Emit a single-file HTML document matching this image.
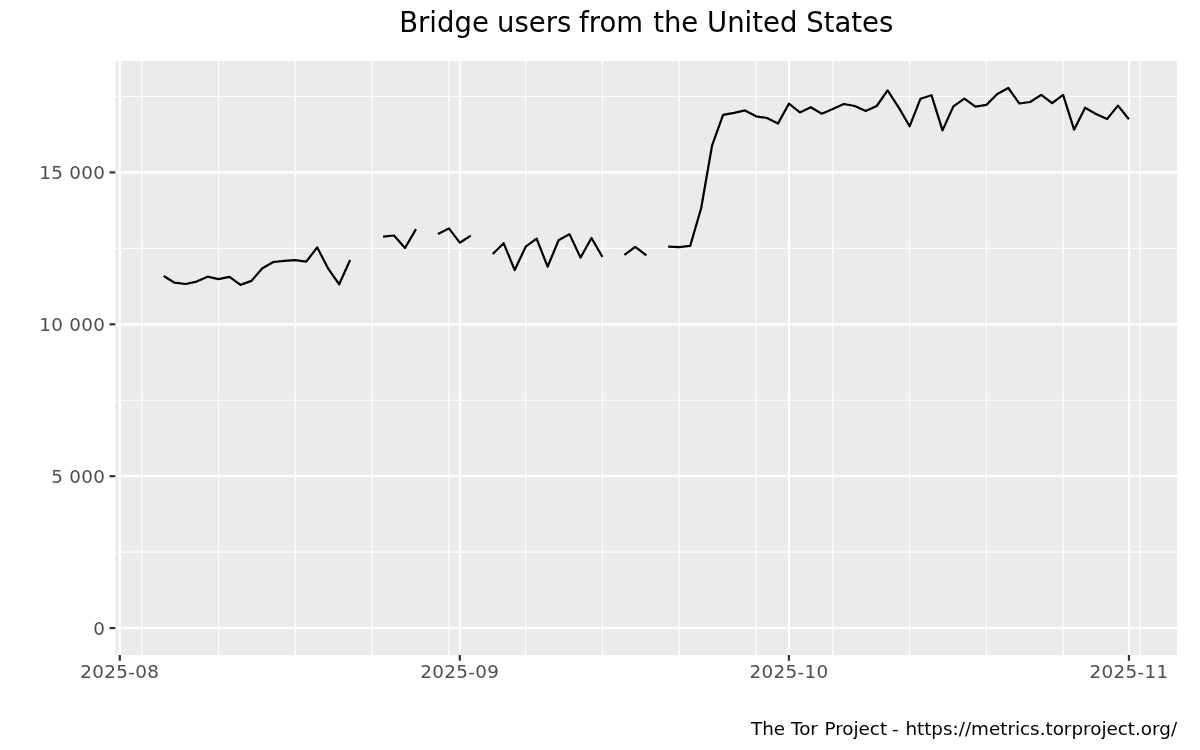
<!DOCTYPE html>
<html lang="en">
<head>
<meta charset="utf-8">
<title>Bridge users from the United States</title>
<style>
html,body{margin:0;padding:0;background:#ffffff;}
body{width:1200px;height:750px;overflow:hidden;}
svg{display:block;}
text{font-family:"DejaVu Sans","Liberation Sans",sans-serif;}
.ax{font-size:18.33px;fill:#4d4d4d;letter-spacing:0.34px;}
.title{font-size:27.5px;fill:#000000;}
.cap{font-size:18.33px;fill:#000000;}
</style>
</head>
<body>
<svg width="1200" height="750" viewBox="0 0 1200 750">
<rect x="0" y="0" width="1200" height="750" fill="#ffffff"/>
<rect x="115.3" y="61.0" width="1061.8" height="594.0" fill="#ebebeb"/>
<clipPath id="pc"><rect x="115.3" y="61.0" width="1061.8" height="594.0"/></clipPath>
<g clip-path="url(#pc)">
<g stroke="#ffffff" stroke-width="1.11" fill="none">
<line x1="115.3" x2="1177.1" y1="552.15" y2="552.15"/>
<line x1="115.3" x2="1177.1" y1="400.25" y2="400.25"/>
<line x1="115.3" x2="1177.1" y1="248.35" y2="248.35"/>
<line x1="115.3" x2="1177.1" y1="96.45" y2="96.45"/>
<line x1="141.74" x2="141.74" y1="61.0" y2="655.0"/>
<line x1="218.52" x2="218.52" y1="61.0" y2="655.0"/>
<line x1="295.30" x2="295.30" y1="61.0" y2="655.0"/>
<line x1="372.09" x2="372.09" y1="61.0" y2="655.0"/>
<line x1="448.87" x2="448.87" y1="61.0" y2="655.0"/>
<line x1="525.65" x2="525.65" y1="61.0" y2="655.0"/>
<line x1="602.44" x2="602.44" y1="61.0" y2="655.0"/>
<line x1="679.22" x2="679.22" y1="61.0" y2="655.0"/>
<line x1="756.00" x2="756.00" y1="61.0" y2="655.0"/>
<line x1="832.78" x2="832.78" y1="61.0" y2="655.0"/>
<line x1="909.57" x2="909.57" y1="61.0" y2="655.0"/>
<line x1="986.35" x2="986.35" y1="61.0" y2="655.0"/>
<line x1="1063.13" x2="1063.13" y1="61.0" y2="655.0"/>
<line x1="1139.92" x2="1139.92" y1="61.0" y2="655.0"/>
</g>
<g stroke="#ffffff" stroke-width="2.22" fill="none">
<line x1="115.3" x2="1177.1" y1="628.10" y2="628.10"/>
<line x1="115.3" x2="1177.1" y1="476.20" y2="476.20"/>
<line x1="115.3" x2="1177.1" y1="324.30" y2="324.30"/>
<line x1="115.3" x2="1177.1" y1="172.40" y2="172.40"/>
<line x1="119.80" x2="119.80" y1="61.0" y2="655.0"/>
<line x1="459.84" x2="459.84" y1="61.0" y2="655.0"/>
<line x1="788.91" x2="788.91" y1="61.0" y2="655.0"/>
<line x1="1128.95" x2="1128.95" y1="61.0" y2="655.0"/>
</g>
<g stroke="#000000" stroke-width="2.22" fill="none" stroke-linejoin="round" stroke-linecap="butt">
<polyline points="163.7,276.0 174.6,282.7 185.6,284.0 196.6,281.6 207.6,276.7 218.5,279.1 229.5,276.9 240.5,284.9 251.4,280.9 262.4,268.3 273.4,262.0 284.3,260.9 295.3,260.1 306.3,261.7 317.2,247.3 328.2,268.7 339.2,284.3 350.1,260.0"/>
<polyline points="383.1,236.7 394.0,235.5 405.0,248.0 416.0,229.1"/>
<polyline points="437.9,234.0 448.9,228.4 459.8,242.7 470.8,235.6"/>
<polyline points="492.7,254.0 503.7,243.3 514.7,270.0 525.7,246.7 536.6,238.7 547.6,266.7 558.6,240.3 569.5,234.1 580.5,257.6 591.5,238.0 602.4,256.9"/>
<polyline points="624.4,254.9 635.3,246.9 646.3,255.3"/>
<polyline points="668.2,246.7 679.2,247.1 690.2,245.9 701.2,208.0 712.1,145.3 723.1,114.9 734.1,112.8 745.0,110.4 756.0,116.3 767.0,118.0 777.9,123.6 788.9,103.7 799.9,112.4 810.8,107.3 821.8,113.7 832.8,109.1 843.8,104.0 854.7,106.0 865.7,110.9 876.7,106.0 887.6,90.4 898.6,107.3 909.6,126.3 920.5,98.7 931.5,95.2 942.5,130.4 953.4,106.4 964.4,98.7 975.4,106.7 986.4,104.9 997.3,94.0 1008.3,88.0 1019.3,103.5 1030.2,102.0 1041.2,94.9 1052.2,103.1 1063.1,94.9 1074.1,129.7 1085.1,107.7 1096.0,114.0 1107.0,119.1 1118.0,105.6 1128.9,119.3"/>
</g>
</g>
<g stroke="#333333" stroke-width="2.22" fill="none">
<line x1="109.57" x2="115.3" y1="628.10" y2="628.10"/>
<line x1="109.57" x2="115.3" y1="476.20" y2="476.20"/>
<line x1="109.57" x2="115.3" y1="324.30" y2="324.30"/>
<line x1="109.57" x2="115.3" y1="172.40" y2="172.40"/>
<line x1="119.80" x2="119.80" y1="655.0" y2="660.73"/>
<line x1="459.84" x2="459.84" y1="655.0" y2="660.73"/>
<line x1="788.91" x2="788.91" y1="655.0" y2="660.73"/>
<line x1="1128.95" x2="1128.95" y1="655.0" y2="660.73"/>
</g>
<text class="ax" x="105.35" y="634.55" text-anchor="end">0</text>
<text class="ax" x="105.35" y="482.65" text-anchor="end">5 000</text>
<text class="ax" x="105.35" y="330.75" text-anchor="end">10 000</text>
<text class="ax" x="105.35" y="178.85" text-anchor="end">15 000</text>
<text class="ax" x="119.80" y="678.35" text-anchor="middle">2025-08</text>
<text class="ax" x="459.84" y="678.35" text-anchor="middle">2025-09</text>
<text class="ax" x="788.91" y="678.35" text-anchor="middle">2025-10</text>
<text class="ax" x="1128.95" y="678.35" text-anchor="middle">2025-11</text>
<text class="title" y="32.3" xml:space="preserve"><tspan x="399.17">Bridge </tspan><tspan x="497.04">users </tspan><tspan x="579.09">from </tspan><tspan x="653.14">the </tspan><tspan x="707.00">United </tspan><tspan x="806.21">States</tspan></text>
<text class="cap" y="734.5" xml:space="preserve"><tspan x="750.95">The </tspan><tspan x="791.06">Tor </tspan><tspan x="824.41">Project </tspan><tspan x="892.04">- </tspan><tspan x="905.38">https://metrics.torproject.org/</tspan></text>
</svg>
</body>
</html>
